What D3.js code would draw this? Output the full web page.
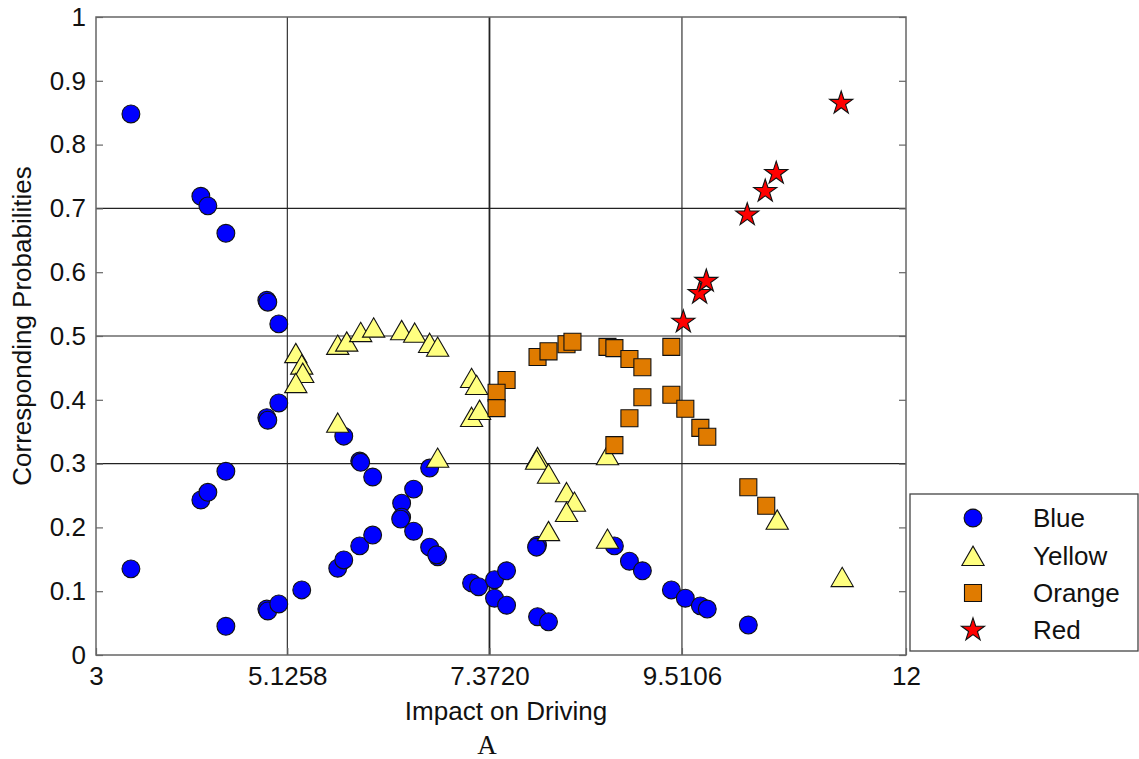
<!DOCTYPE html>
<html>
<head>
<meta charset="utf-8">
<script src="https://cdn.jsdelivr.net/npm/d3@7"></script>
<style>
  html, body { margin: 0; padding: 0; background: #fff; }
  svg { display: block; }
  text { font-family: "Liberation Sans", Arial, sans-serif; fill: #111; }
</style>
</head>
<body>
<svg id="chart" width="1139" height="759"></svg>
<script>
// ---------- data ----------
const xTicks = [3, 5.1258, 7.3720, 9.5106, 12];
const xTickLabels = ["3", "5.1258", "7.3720", "9.5106", "12"];
const yTicks = [0, 0.1, 0.2, 0.3, 0.4, 0.5, 0.6, 0.7, 0.8, 0.9, 1];
const yTickLabels = ["0", "0.1", "0.2", "0.3", "0.4", "0.5", "0.6", "0.7", "0.8", "0.9", "1"];
const xGrid = [5.1258, 7.3720, 9.5106];
const yGrid = [0.3, 0.5, 0.7];
const seriesNames = ["Blue", "Yellow", "Orange", "Red"];

const blue = [
  [3.388, 0.848], [3.388, 0.135], [4.165, 0.719], [4.243, 0.704], [4.443, 0.661],
  [4.165, 0.243], [4.243, 0.255], [4.443, 0.288], [4.443, 0.045],
  [4.898, 0.556], [4.909, 0.553], [4.898, 0.372], [4.909, 0.368],
  [4.898, 0.072], [4.909, 0.069], [5.031, 0.519], [5.031, 0.395], [5.031, 0.080],
  [5.286, 0.102], [5.686, 0.136], [5.753, 0.149], [5.753, 0.343],
  [5.930, 0.304], [5.941, 0.302], [5.930, 0.171], [6.074, 0.279], [6.074, 0.188],
  [6.396, 0.238], [6.396, 0.216], [6.385, 0.213], [6.529, 0.260], [6.529, 0.194],
  [6.707, 0.169], [6.796, 0.154], [6.785, 0.157], [6.707, 0.293],
  [7.173, 0.113], [7.251, 0.107], [7.428, 0.118], [7.428, 0.089],
  [7.562, 0.132], [7.562, 0.078], [7.906, 0.172], [7.895, 0.169],
  [7.906, 0.060], [8.028, 0.052], [8.760, 0.171], [8.927, 0.147],
  [9.071, 0.132], [9.393, 0.102], [9.548, 0.089], [9.715, 0.077],
  [9.792, 0.072], [10.248, 0.047]
];
const yellow = [
  [5.220, 0.473], [5.286, 0.455], [5.297, 0.442], [5.220, 0.426],
  [5.686, 0.486], [5.786, 0.491], [5.941, 0.506], [6.085, 0.513],
  [6.396, 0.509], [6.541, 0.505], [6.707, 0.489], [6.796, 0.483],
  [7.173, 0.434], [7.229, 0.423], [7.173, 0.373], [7.262, 0.384],
  [5.686, 0.364], [6.796, 0.309], [7.906, 0.310], [7.895, 0.306],
  [8.028, 0.284], [8.228, 0.255], [8.316, 0.240], [8.228, 0.224],
  [8.028, 0.194], [8.683, 0.182], [8.683, 0.313], [10.569, 0.212], [11.291, 0.122]
];
const orange = [
  [7.562, 0.431], [7.451, 0.411], [7.451, 0.387], [7.906, 0.467],
  [8.028, 0.476], [8.228, 0.487], [8.294, 0.491], [8.683, 0.483],
  [8.760, 0.481], [8.927, 0.464], [9.071, 0.451], [9.071, 0.404],
  [8.927, 0.371], [8.760, 0.329], [9.393, 0.483], [9.393, 0.408],
  [9.548, 0.386], [9.715, 0.356], [9.792, 0.342], [10.248, 0.263], [10.447, 0.234]
];
const red = [
  [9.526, 0.522], [9.707, 0.567], [9.781, 0.586], [10.236, 0.690],
  [10.436, 0.727], [10.558, 0.755], [11.280, 0.865]
];

// ---------- layout ----------
const svg = d3.select("#chart");
const L = 96, R = 906, T = 17, B = 655;
const x = d3.scaleLinear().domain([3, 12]).range([L, R]);
const y = d3.scaleLinear().domain([0, 1]).range([B, T]);
const FONT = 26;

const styles = [
  { data: blue,   sym: d3.symbolCircle,   size: 250, fill: "#0000ff", dy: 0 },
  { data: yellow, sym: d3.symbolTriangle, size: 215, fill: "#ffff80", dy: 3 },
  { data: orange, sym: d3.symbolSquare,   size: 290, fill: "#e07b00", dy: 0 },
  { data: red,    sym: d3.symbolStar,     size: 165, fill: "#ff0000", dy: 0 }
];

// grid lines
const grid = svg.append("g");
grid.selectAll("line.gx").data(xGrid).join("line")
  .attr("x1", d => x(d)).attr("x2", d => x(d))
  .attr("y1", T).attr("y2", B)
  .attr("stroke", "#222").attr("stroke-width", (d, i) => i === 1 ? 1.8 : 1.1);
grid.selectAll("line.gy").data(yGrid).join("line")
  .attr("x1", L).attr("x2", R)
  .attr("y1", d => y(d)).attr("y2", d => y(d))
  .attr("stroke", "#222").attr("stroke-width", 1.1);

// axes (ticks inside)
const yAxisL = d3.axisLeft(y).tickValues(yTicks).tickSize(-7).tickPadding(10)
  .tickFormat((d, i) => yTickLabels[i]);
const gy = svg.append("g").attr("transform", `translate(${L},0)`).call(yAxisL);
gy.select(".domain").remove();
gy.selectAll("line").attr("stroke", "#666").attr("stroke-width", 1.2);
gy.selectAll("text").attr("font-size", FONT).attr("fill", "#111")
  .attr("font-family", "'Liberation Sans', Arial, sans-serif");

const yAxisR = d3.axisRight(y).tickValues(yTicks).tickSize(-7).tickFormat("");
const gyr = svg.append("g").attr("transform", `translate(${R},0)`).call(yAxisR);
gyr.select(".domain").remove();
gyr.selectAll("line").attr("stroke", "#666").attr("stroke-width", 1.2);

const xAxisB = d3.axisBottom(x).tickValues(xTicks).tickSize(-7).tickPadding(12)
  .tickFormat((d, i) => xTickLabels[i]);
const gx = svg.append("g").attr("transform", `translate(0,${B})`).call(xAxisB);
gx.select(".domain").remove();
gx.selectAll("line").attr("stroke", "#666").attr("stroke-width", 1.2);
gx.selectAll("text").attr("font-size", FONT).attr("fill", "#111")
  .attr("font-family", "'Liberation Sans', Arial, sans-serif");

// plot border
svg.append("rect").attr("x", L).attr("y", T).attr("width", R - L).attr("height", B - T)
  .attr("fill", "none").attr("stroke", "#666").attr("stroke-width", 1.5);

// markers
styles.forEach(s => {
  const gen = d3.symbol().type(s.sym).size(s.size);
  svg.append("g").selectAll("path").data(s.data).join("path")
    .attr("d", gen)
    .attr("transform", d => `translate(${x(d[0])},${y(d[1]) + s.dy})`)
    .attr("fill", s.fill).attr("stroke", "#111").attr("stroke-width", 1.1);
});

// axis titles
svg.append("text").attr("x", 506).attr("y", 720)
  .attr("text-anchor", "middle").attr("font-size", FONT).text("Impact on Driving");
svg.append("text").attr("transform", `translate(31,${(T + B) / 2 - 10}) rotate(-90)`)
  .attr("text-anchor", "middle").attr("font-size", FONT).text("Corresponding Probabilities");
svg.append("text").attr("x", 487).attr("y", 754)
  .attr("text-anchor", "middle").attr("font-size", 27)
  .style("font-family", "'Liberation Serif', 'Times New Roman', serif").text("A");

// legend
const lg = svg.append("g");
lg.append("rect").attr("x", 910).attr("y", 494).attr("width", 228).attr("height", 157)
  .attr("fill", "#fff").attr("stroke", "#444").attr("stroke-width", 1.3);
const legY = [518, 556, 593, 630];
styles.forEach((s, i) => {
  lg.append("path").attr("d", d3.symbol().type(s.sym).size(s.size)())
    .attr("transform", `translate(973,${legY[i] + s.dy})`)
    .attr("fill", s.fill).attr("stroke", "#111").attr("stroke-width", 1.1);
  lg.append("text").attr("x", 1033).attr("y", legY[i] + 9)
    .attr("font-size", FONT).text(seriesNames[i]);
});
</script>
</body>
</html>
